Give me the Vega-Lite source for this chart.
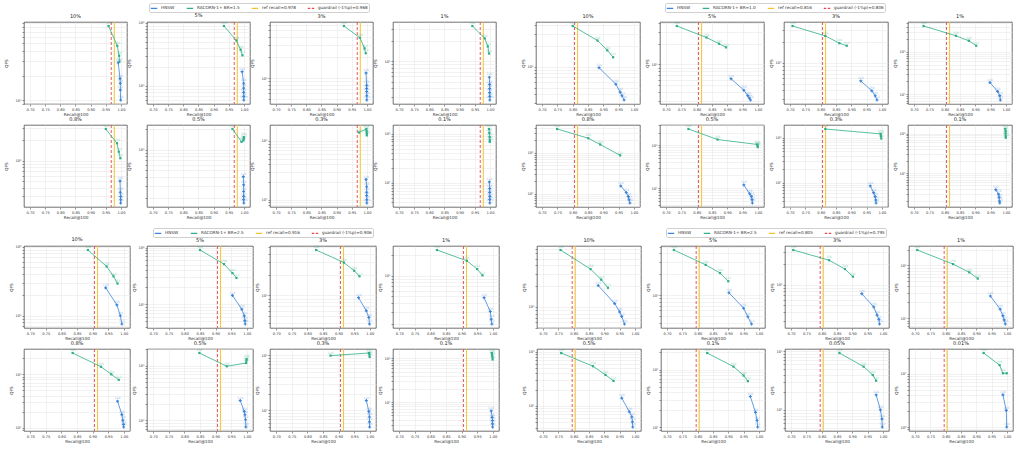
{
"$schema": "https://vega.github.io/schema/vega-lite/v6.json",
"background": "white",
"padding": {"left": 4, "top": 2, "right": 0, "bottom": 0},
"datasets": {"d": [
{"q":"TL","p":"10%","s":"ref","r":0.978},{"q":"TL","p":"10%","s":"g","r":0.968},
{"q":"TL","p":"5%","s":"ref","r":0.978},{"q":"TL","p":"5%","s":"g","r":0.968},
{"q":"TL","p":"3%","s":"ref","r":0.978},{"q":"TL","p":"3%","s":"g","r":0.968},
{"q":"TL","p":"1%","s":"ref","r":0.978},{"q":"TL","p":"1%","s":"g","r":0.968},
{"q":"TL","p":"0.8%","s":"ref","r":0.978},{"q":"TL","p":"0.8%","s":"g","r":0.968},
{"q":"TL","p":"0.5%","s":"ref","r":0.978},{"q":"TL","p":"0.5%","s":"g","r":0.968},
{"q":"TL","p":"0.3%","s":"ref","r":0.978},{"q":"TL","p":"0.3%","s":"g","r":0.968},
{"q":"TL","p":"0.1%","s":"ref","r":0.978},{"q":"TL","p":"0.1%","s":"g","r":0.968},
{"q":"TL","p":"10%","s":"R","i":0,"r":0.959,"v":8200,"l":"128"},
{"q":"TL","p":"10%","s":"R","i":1,"r":0.988,"v":4670,"l":"256"},
{"q":"TL","p":"10%","s":"R","i":2,"r":0.994,"v":3520,"l":"384"},
{"q":"TL","p":"10%","s":"R","i":3,"r":0.995,"v":2970,"l":"512"},
{"q":"TL","p":"10%","s":"H","i":0,"r":0.991,"v":2890,"l":"128"},
{"q":"TL","p":"10%","s":"H","i":1,"r":0.997,"v":1840,"l":"256"},
{"q":"TL","p":"10%","s":"H","i":2,"r":0.998,"v":1600,"l":"384"},
{"q":"TL","p":"10%","s":"H","i":3,"r":0.998,"v":1330,"l":"512"},
{"q":"TL","p":"10%","s":"H","i":4,"r":0.999,"v":1000,"l":"768"},
{"q":"TL","p":"5%","s":"R","i":0,"r":0.934,"v":8870,"l":"128"},
{"q":"TL","p":"5%","s":"R","i":1,"r":0.975,"v":5230,"l":"256"},
{"q":"TL","p":"5%","s":"R","i":2,"r":0.989,"v":3740,"l":"384"},
{"q":"TL","p":"5%","s":"R","i":3,"r":0.995,"v":3050,"l":"512"},
{"q":"TL","p":"5%","s":"H","i":0,"r":0.994,"v":1675,"l":"128"},
{"q":"TL","p":"5%","s":"H","i":1,"r":0.999,"v":1100,"l":"256"},
{"q":"TL","p":"5%","s":"H","i":2,"r":0.999,"v":920,"l":"384"},
{"q":"TL","p":"5%","s":"H","i":3,"r":0.999,"v":787,"l":"512"},
{"q":"TL","p":"5%","s":"H","i":4,"r":0.9995,"v":681,"l":"768"},
{"q":"TL","p":"5%","s":"H","i":5,"r":0.9995,"v":597,"l":"1024"},
{"q":"TL","p":"3%","s":"R","i":0,"r":0.924,"v":5720,"l":"128"},
{"q":"TL","p":"3%","s":"R","i":1,"r":0.977,"v":3850,"l":"256"},
{"q":"TL","p":"3%","s":"R","i":2,"r":0.992,"v":2710,"l":"384"},
{"q":"TL","p":"3%","s":"R","i":3,"r":0.996,"v":2300,"l":"512"},
{"q":"TL","p":"3%","s":"H","i":0,"r":0.997,"v":1190,"l":"128"},
{"q":"TL","p":"3%","s":"H","i":1,"r":0.999,"v":786,"l":"256"},
{"q":"TL","p":"3%","s":"H","i":2,"r":0.999,"v":705,"l":"384"},
{"q":"TL","p":"3%","s":"H","i":3,"r":0.999,"v":638,"l":"512"},
{"q":"TL","p":"3%","s":"H","i":4,"r":0.9995,"v":553,"l":"768"},
{"q":"TL","p":"3%","s":"H","i":5,"r":0.9995,"v":480,"l":"1024"},
{"q":"TL","p":"1%","s":"R","i":0,"r":0.942,"v":3270,"l":"128"},
{"q":"TL","p":"1%","s":"R","i":1,"r":0.983,"v":2150,"l":"256"},
{"q":"TL","p":"1%","s":"R","i":2,"r":0.993,"v":1640,"l":"384"},
{"q":"TL","p":"1%","s":"R","i":3,"r":0.997,"v":1290,"l":"512"},
{"q":"TL","p":"1%","s":"H","i":0,"r":0.998,"v":578,"l":"128"},
{"q":"TL","p":"1%","s":"H","i":1,"r":0.999,"v":454,"l":"256"},
{"q":"TL","p":"1%","s":"H","i":2,"r":0.999,"v":394,"l":"384"},
{"q":"TL","p":"1%","s":"H","i":3,"r":0.999,"v":345,"l":"512"},
{"q":"TL","p":"1%","s":"H","i":4,"r":0.9995,"v":303,"l":"768"},
{"q":"TL","p":"1%","s":"H","i":5,"r":0.9995,"v":268,"l":"1024"},
{"q":"TL","p":"0.8%","s":"R","i":0,"r":0.950,"v":2930,"l":"128"},
{"q":"TL","p":"0.8%","s":"R","i":1,"r":0.987,"v":1810,"l":"256"},
{"q":"TL","p":"0.8%","s":"R","i":2,"r":0.993,"v":1360,"l":"384"},
{"q":"TL","p":"0.8%","s":"R","i":3,"r":0.998,"v":1090,"l":"512"},
{"q":"TL","p":"0.8%","s":"H","i":0,"r":0.997,"v":507,"l":"128"},
{"q":"TL","p":"0.8%","s":"H","i":1,"r":0.998,"v":345,"l":"256"},
{"q":"TL","p":"0.8%","s":"H","i":2,"r":0.999,"v":299,"l":"384"},
{"q":"TL","p":"0.8%","s":"H","i":3,"r":0.999,"v":268,"l":"512"},
{"q":"TL","p":"0.8%","s":"H","i":4,"r":0.999,"v":240,"l":"768"},
{"q":"TL","p":"0.5%","s":"R","i":0,"r":0.962,"v":1995,"l":"128"},
{"q":"TL","p":"0.5%","s":"R","i":1,"r":0.992,"v":1300,"l":"256"},
{"q":"TL","p":"0.5%","s":"R","i":2,"r":0.998,"v":1360,"l":"384"},
{"q":"TL","p":"0.5%","s":"R","i":3,"r":0.9995,"v":1440,"l":"512"},
{"q":"TL","p":"0.5%","s":"R","i":4,"r":0.9995,"v":1520,"l":"768"},
{"q":"TL","p":"0.5%","s":"H","i":0,"r":0.998,"v":407,"l":"128"},
{"q":"TL","p":"0.5%","s":"H","i":1,"r":0.999,"v":309,"l":"256"},
{"q":"TL","p":"0.5%","s":"H","i":2,"r":0.999,"v":248,"l":"384"},
{"q":"TL","p":"0.5%","s":"H","i":3,"r":0.999,"v":211,"l":"512"},
{"q":"TL","p":"0.5%","s":"H","i":4,"r":0.999,"v":189,"l":"768"},
{"q":"TL","p":"0.5%","s":"H","i":5,"r":0.9995,"v":169,"l":"1024"},
{"q":"TL","p":"0.3%","s":"R","i":0,"r":0.974,"v":1387,"l":"128"},
{"q":"TL","p":"0.3%","s":"R","i":1,"r":0.998,"v":1590,"l":"256"},
{"q":"TL","p":"0.3%","s":"R","i":2,"r":0.999,"v":1460,"l":"384"},
{"q":"TL","p":"0.3%","s":"R","i":3,"r":0.9995,"v":1336,"l":"512"},
{"q":"TL","p":"0.3%","s":"R","i":4,"r":0.9995,"v":1240,"l":"768"},
{"q":"TL","p":"0.3%","s":"H","i":0,"r":0.997,"v":221,"l":"128"},
{"q":"TL","p":"0.3%","s":"H","i":1,"r":0.999,"v":166,"l":"256"},
{"q":"TL","p":"0.3%","s":"H","i":2,"r":0.999,"v":134,"l":"384"},
{"q":"TL","p":"0.3%","s":"H","i":3,"r":0.999,"v":118,"l":"512"},
{"q":"TL","p":"0.3%","s":"H","i":4,"r":0.9995,"v":100,"l":"768"},
{"q":"TL","p":"0.3%","s":"H","i":5,"r":0.9995,"v":88,"l":"1024"},
{"q":"TL","p":"0.1%","s":"R","i":0,"r":0.997,"v":1253,"l":"128"},
{"q":"TL","p":"0.1%","s":"R","i":1,"r":0.998,"v":1048,"l":"256"},
{"q":"TL","p":"0.1%","s":"R","i":2,"r":0.999,"v":861,"l":"384"},
{"q":"TL","p":"0.1%","s":"R","i":3,"r":0.9995,"v":740,"l":"512"},
{"q":"TL","p":"0.1%","s":"R","i":4,"r":0.9995,"v":687,"l":"768"},
{"q":"TL","p":"0.1%","s":"H","i":0,"r":0.998,"v":105,"l":"128"},
{"q":"TL","p":"0.1%","s":"H","i":1,"r":0.999,"v":77,"l":"256"},
{"q":"TL","p":"0.1%","s":"H","i":2,"r":0.999,"v":64,"l":"384"},
{"q":"TL","p":"0.1%","s":"H","i":3,"r":0.9995,"v":53,"l":"512"},
{"q":"TL","p":"0.1%","s":"H","i":4,"r":0.9995,"v":46,"l":"768"},
{"q":"TL","p":"0.1%","s":"H","i":5,"r":0.9995,"v":39,"l":"1024"},
{"q":"TR","p":"10%","s":"ref","r":0.816},{"q":"TR","p":"10%","s":"g","r":0.806},
{"q":"TR","p":"5%","s":"ref","r":0.816},{"q":"TR","p":"5%","s":"g","r":0.806},
{"q":"TR","p":"3%","s":"ref","r":0.816},{"q":"TR","p":"3%","s":"g","r":0.806},
{"q":"TR","p":"1%","s":"ref","r":0.816},{"q":"TR","p":"1%","s":"g","r":0.806},
{"q":"TR","p":"0.8%","s":"ref","r":0.816},{"q":"TR","p":"0.8%","s":"g","r":0.806},
{"q":"TR","p":"0.5%","s":"ref","r":0.816},{"q":"TR","p":"0.5%","s":"g","r":0.806},
{"q":"TR","p":"0.3%","s":"ref","r":0.816},{"q":"TR","p":"0.3%","s":"g","r":0.806},
{"q":"TR","p":"0.1%","s":"ref","r":0.816},{"q":"TR","p":"0.1%","s":"g","r":0.806},
{"q":"TR","p":"10%","s":"R","i":0,"r":0.800,"v":3890,"l":"128"},
{"q":"TR","p":"10%","s":"R","i":1,"r":0.881,"v":2400,"l":"256"},
{"q":"TR","p":"10%","s":"R","i":2,"r":0.913,"v":1730,"l":"384"},
{"q":"TR","p":"10%","s":"R","i":3,"r":0.932,"v":1375,"l":"512"},
{"q":"TR","p":"10%","s":"H","i":0,"r":0.886,"v":968,"l":"128"},
{"q":"TR","p":"10%","s":"H","i":1,"r":0.941,"v":560,"l":"256"},
{"q":"TR","p":"10%","s":"H","i":2,"r":0.955,"v":430,"l":"384"},
{"q":"TR","p":"10%","s":"H","i":3,"r":0.961,"v":380,"l":"512"},
{"q":"TR","p":"10%","s":"H","i":4,"r":0.968,"v":330,"l":"768"},
{"q":"TR","p":"5%","s":"R","i":0,"r":0.735,"v":3610,"l":"128"},
{"q":"TR","p":"5%","s":"R","i":1,"r":0.832,"v":2460,"l":"256"},
{"q":"TR","p":"5%","s":"R","i":2,"r":0.873,"v":2000,"l":"384"},
{"q":"TR","p":"5%","s":"R","i":3,"r":0.896,"v":1770,"l":"512"},
{"q":"TR","p":"5%","s":"H","i":0,"r":0.912,"v":624,"l":"128"},
{"q":"TR","p":"5%","s":"H","i":1,"r":0.954,"v":425,"l":"256"},
{"q":"TR","p":"5%","s":"H","i":2,"r":0.967,"v":353,"l":"384"},
{"q":"TR","p":"5%","s":"H","i":3,"r":0.972,"v":325,"l":"512"},
{"q":"TR","p":"5%","s":"H","i":4,"r":0.976,"v":306,"l":"768"},
{"q":"TR","p":"3%","s":"R","i":0,"r":0.708,"v":3420,"l":"128"},
{"q":"TR","p":"3%","s":"R","i":1,"r":0.815,"v":2460,"l":"256"},
{"q":"TR","p":"3%","s":"R","i":2,"r":0.861,"v":1930,"l":"384"},
{"q":"TR","p":"3%","s":"R","i":3,"r":0.885,"v":1770,"l":"512"},
{"q":"TR","p":"3%","s":"H","i":0,"r":0.931,"v":547,"l":"128"},
{"q":"TR","p":"3%","s":"H","i":1,"r":0.967,"v":394,"l":"256"},
{"q":"TR","p":"3%","s":"H","i":2,"r":0.978,"v":334,"l":"384"},
{"q":"TR","p":"3%","s":"H","i":3,"r":0.984,"v":290,"l":"512"},
{"q":"TR","p":"1%","s":"R","i":0,"r":0.731,"v":4140,"l":"128"},
{"q":"TR","p":"1%","s":"R","i":1,"r":0.837,"v":2420,"l":"256"},
{"q":"TR","p":"1%","s":"R","i":2,"r":0.879,"v":1845,"l":"384"},
{"q":"TR","p":"1%","s":"R","i":3,"r":0.903,"v":1407,"l":"512"},
{"q":"TR","p":"1%","s":"H","i":0,"r":0.948,"v":187,"l":"128"},
{"q":"TR","p":"1%","s":"H","i":1,"r":0.973,"v":115,"l":"256"},
{"q":"TR","p":"1%","s":"H","i":2,"r":0.980,"v":91,"l":"384"},
{"q":"TR","p":"1%","s":"H","i":3,"r":0.982,"v":72,"l":"512"},
{"q":"TR","p":"0.8%","s":"R","i":0,"r":0.749,"v":3770,"l":"128"},
{"q":"TR","p":"0.8%","s":"R","i":1,"r":0.851,"v":2250,"l":"256"},
{"q":"TR","p":"0.8%","s":"R","i":2,"r":0.890,"v":1585,"l":"384"},
{"q":"TR","p":"0.8%","s":"R","i":3,"r":0.955,"v":863,"l":"512"},
{"q":"TR","p":"0.8%","s":"H","i":0,"r":0.957,"v":156,"l":"128"},
{"q":"TR","p":"0.8%","s":"H","i":1,"r":0.975,"v":108,"l":"256"},
{"q":"TR","p":"0.8%","s":"H","i":2,"r":0.982,"v":86,"l":"384"},
{"q":"TR","p":"0.8%","s":"H","i":3,"r":0.984,"v":72,"l":"512"},
{"q":"TR","p":"0.8%","s":"H","i":4,"r":0.987,"v":60,"l":"768"},
{"q":"TR","p":"0.5%","s":"R","i":0,"r":0.773,"v":2425,"l":"128"},
{"q":"TR","p":"0.5%","s":"R","i":1,"r":0.868,"v":1375,"l":"256"},
{"q":"TR","p":"0.5%","s":"R","i":2,"r":0.998,"v":1055,"l":"384"},
{"q":"TR","p":"0.5%","s":"R","i":3,"r":0.999,"v":1000,"l":"512"},
{"q":"TR","p":"0.5%","s":"R","i":4,"r":0.9995,"v":915,"l":"768"},
{"q":"TR","p":"0.5%","s":"H","i":0,"r":0.954,"v":119,"l":"128"},
{"q":"TR","p":"0.5%","s":"H","i":1,"r":0.973,"v":74,"l":"256"},
{"q":"TR","p":"0.5%","s":"H","i":2,"r":0.979,"v":64,"l":"384"},
{"q":"TR","p":"0.5%","s":"H","i":3,"r":0.981,"v":54,"l":"512"},
{"q":"TR","p":"0.5%","s":"H","i":4,"r":0.982,"v":45,"l":"768"},
{"q":"TR","p":"0.3%","s":"R","i":0,"r":0.815,"v":1570,"l":"128"},
{"q":"TR","p":"0.3%","s":"R","i":1,"r":0.996,"v":1222,"l":"256"},
{"q":"TR","p":"0.3%","s":"R","i":2,"r":0.997,"v":1087,"l":"384"},
{"q":"TR","p":"0.3%","s":"R","i":3,"r":0.998,"v":968,"l":"512"},
{"q":"TR","p":"0.3%","s":"H","i":0,"r":0.962,"v":86,"l":"128"},
{"q":"TR","p":"0.3%","s":"H","i":1,"r":0.973,"v":61,"l":"256"},
{"q":"TR","p":"0.3%","s":"H","i":2,"r":0.978,"v":50,"l":"384"},
{"q":"TR","p":"0.3%","s":"H","i":3,"r":0.980,"v":42,"l":"512"},
{"q":"TR","p":"0.3%","s":"H","i":4,"r":0.981,"v":36,"l":"768"},
{"q":"TR","p":"0.1%","s":"R","i":0,"r":0.998,"v":1300,"l":"128"},
{"q":"TR","p":"0.1%","s":"R","i":1,"r":0.999,"v":1140,"l":"256"},
{"q":"TR","p":"0.1%","s":"R","i":2,"r":0.999,"v":1000,"l":"384"},
{"q":"TR","p":"0.1%","s":"R","i":3,"r":0.9995,"v":861,"l":"512"},
{"q":"TR","p":"0.1%","s":"R","i":4,"r":0.9995,"v":784,"l":"768"},
{"q":"TR","p":"0.1%","s":"H","i":0,"r":0.967,"v":39,"l":"128"},
{"q":"TR","p":"0.1%","s":"H","i":1,"r":0.976,"v":30,"l":"256"},
{"q":"TR","p":"0.1%","s":"H","i":2,"r":0.978,"v":25,"l":"384"},
{"q":"TR","p":"0.1%","s":"H","i":3,"r":0.979,"v":20,"l":"512"},
{"q":"TR","p":"0.1%","s":"H","i":4,"r":0.980,"v":18,"l":"768"},
{"q":"BL","p":"10%","s":"ref","r":0.916},{"q":"BL","p":"10%","s":"g","r":0.906},
{"q":"BL","p":"5%","s":"ref","r":0.916},{"q":"BL","p":"5%","s":"g","r":0.906},
{"q":"BL","p":"3%","s":"ref","r":0.916},{"q":"BL","p":"3%","s":"g","r":0.906},
{"q":"BL","p":"1%","s":"ref","r":0.916},{"q":"BL","p":"1%","s":"g","r":0.906},
{"q":"BL","p":"0.8%","s":"ref","r":0.916},{"q":"BL","p":"0.8%","s":"g","r":0.906},
{"q":"BL","p":"0.5%","s":"ref","r":0.916},{"q":"BL","p":"0.5%","s":"g","r":0.906},
{"q":"BL","p":"0.3%","s":"ref","r":0.916},{"q":"BL","p":"0.3%","s":"g","r":0.906},
{"q":"BL","p":"0.1%","s":"ref","r":0.916},{"q":"BL","p":"0.1%","s":"g","r":0.906},
{"q":"BL","p":"10%","s":"R","i":0,"r":0.885,"v":8960,"l":"128"},
{"q":"BL","p":"10%","s":"R","i":1,"r":0.945,"v":5180,"l":"256"},
{"q":"BL","p":"10%","s":"R","i":2,"r":0.967,"v":3730,"l":"384"},
{"q":"BL","p":"10%","s":"R","i":3,"r":0.980,"v":2930,"l":"512"},
{"q":"BL","p":"10%","s":"H","i":0,"r":0.942,"v":2540,"l":"128"},
{"q":"BL","p":"10%","s":"H","i":1,"r":0.978,"v":1435,"l":"256"},
{"q":"BL","p":"10%","s":"H","i":2,"r":0.989,"v":1000,"l":"384"},
{"q":"BL","p":"10%","s":"H","i":3,"r":0.994,"v":760,"l":"512"},
{"q":"BL","p":"5%","s":"R","i":0,"r":0.850,"v":9100,"l":"128"},
{"q":"BL","p":"5%","s":"R","i":1,"r":0.927,"v":5120,"l":"256"},
{"q":"BL","p":"5%","s":"R","i":2,"r":0.954,"v":3560,"l":"384"},
{"q":"BL","p":"5%","s":"R","i":3,"r":0.967,"v":2920,"l":"512"},
{"q":"BL","p":"5%","s":"H","i":0,"r":0.954,"v":1435,"l":"128"},
{"q":"BL","p":"5%","s":"H","i":1,"r":0.984,"v":818,"l":"256"},
{"q":"BL","p":"5%","s":"H","i":2,"r":0.992,"v":626,"l":"384"},
{"q":"BL","p":"5%","s":"H","i":3,"r":0.994,"v":512,"l":"512"},
{"q":"BL","p":"5%","s":"H","i":4,"r":0.995,"v":448,"l":"768"},
{"q":"BL","p":"3%","s":"R","i":0,"r":0.828,"v":4540,"l":"128"},
{"q":"BL","p":"3%","s":"R","i":1,"r":0.917,"v":2990,"l":"256"},
{"q":"BL","p":"3%","s":"R","i":2,"r":0.950,"v":2275,"l":"384"},
{"q":"BL","p":"3%","s":"R","i":3,"r":0.967,"v":1890,"l":"512"},
{"q":"BL","p":"3%","s":"H","i":0,"r":0.964,"v":926,"l":"128"},
{"q":"BL","p":"3%","s":"H","i":1,"r":0.989,"v":597,"l":"256"},
{"q":"BL","p":"3%","s":"H","i":2,"r":0.997,"v":480,"l":"384"},
{"q":"BL","p":"3%","s":"H","i":3,"r":0.999,"v":385,"l":"512"},
{"q":"BL","p":"1%","s":"R","i":0,"r":0.821,"v":2350,"l":"128"},
{"q":"BL","p":"1%","s":"R","i":1,"r":0.917,"v":1640,"l":"256"},
{"q":"BL","p":"1%","s":"R","i":2,"r":0.950,"v":1245,"l":"384"},
{"q":"BL","p":"1%","s":"R","i":3,"r":0.967,"v":1010,"l":"512"},
{"q":"BL","p":"1%","s":"H","i":0,"r":0.972,"v":480,"l":"128"},
{"q":"BL","p":"1%","s":"H","i":1,"r":0.992,"v":303,"l":"256"},
{"q":"BL","p":"1%","s":"H","i":2,"r":0.995,"v":235,"l":"384"},
{"q":"BL","p":"1%","s":"H","i":3,"r":0.997,"v":200,"l":"512"},
{"q":"BL","p":"0.8%","s":"R","i":0,"r":0.836,"v":2505,"l":"128"},
{"q":"BL","p":"0.8%","s":"R","i":1,"r":0.927,"v":1385,"l":"256"},
{"q":"BL","p":"0.8%","s":"R","i":2,"r":0.960,"v":1000,"l":"384"},
{"q":"BL","p":"0.8%","s":"R","i":3,"r":0.984,"v":787,"l":"512"},
{"q":"BL","p":"0.8%","s":"H","i":0,"r":0.980,"v":314,"l":"128"},
{"q":"BL","p":"0.8%","s":"H","i":1,"r":0.994,"v":176,"l":"256"},
{"q":"BL","p":"0.8%","s":"H","i":2,"r":0.997,"v":138,"l":"384"},
{"q":"BL","p":"0.8%","s":"H","i":3,"r":0.999,"v":115,"l":"512"},
{"q":"BL","p":"0.8%","s":"H","i":4,"r":0.9995,"v":103,"l":"768"},
{"q":"BL","p":"0.5%","s":"R","i":0,"r":0.848,"v":1700,"l":"128"},
{"q":"BL","p":"0.5%","s":"R","i":1,"r":0.936,"v":973,"l":"256"},
{"q":"BL","p":"0.5%","s":"R","i":2,"r":0.998,"v":1117,"l":"384"},
{"q":"BL","p":"0.5%","s":"R","i":3,"r":0.999,"v":1233,"l":"512"},
{"q":"BL","p":"0.5%","s":"R","i":4,"r":0.9995,"v":1322,"l":"768"},
{"q":"BL","p":"0.5%","s":"H","i":0,"r":0.979,"v":231,"l":"128"},
{"q":"BL","p":"0.5%","s":"H","i":1,"r":0.992,"v":146,"l":"256"},
{"q":"BL","p":"0.5%","s":"H","i":2,"r":0.994,"v":127,"l":"384"},
{"q":"BL","p":"0.5%","s":"H","i":3,"r":0.996,"v":103,"l":"512"},
{"q":"BL","p":"0.5%","s":"H","i":4,"r":0.997,"v":76,"l":"768"},
{"q":"BL","p":"0.3%","s":"R","i":0,"r":0.874,"v":986,"l":"128"},
{"q":"BL","p":"0.3%","s":"R","i":1,"r":0.998,"v":1100,"l":"256"},
{"q":"BL","p":"0.3%","s":"R","i":2,"r":0.999,"v":1028,"l":"384"},
{"q":"BL","p":"0.3%","s":"R","i":3,"r":0.9995,"v":933,"l":"512"},
{"q":"BL","p":"0.3%","s":"H","i":0,"r":0.989,"v":151,"l":"128"},
{"q":"BL","p":"0.3%","s":"H","i":1,"r":0.997,"v":96,"l":"256"},
{"q":"BL","p":"0.3%","s":"H","i":2,"r":0.999,"v":76,"l":"384"},
{"q":"BL","p":"0.3%","s":"H","i":3,"r":0.999,"v":62,"l":"512"},
{"q":"BL","p":"0.3%","s":"H","i":4,"r":0.9995,"v":50,"l":"768"},
{"q":"BL","p":"0.1%","s":"R","i":0,"r":0.997,"v":1334,"l":"128"},
{"q":"BL","p":"0.1%","s":"R","i":1,"r":0.998,"v":1185,"l":"256"},
{"q":"BL","p":"0.1%","s":"R","i":2,"r":0.999,"v":1070,"l":"384"},
{"q":"BL","p":"0.1%","s":"R","i":3,"r":0.9995,"v":950,"l":"512"},
{"q":"BL","p":"0.1%","s":"H","i":0,"r":0.995,"v":63,"l":"128"},
{"q":"BL","p":"0.1%","s":"H","i":1,"r":0.998,"v":45,"l":"256"},
{"q":"BL","p":"0.1%","s":"H","i":2,"r":0.999,"v":38,"l":"384"},
{"q":"BL","p":"0.1%","s":"H","i":3,"r":0.999,"v":32,"l":"512"},
{"q":"BL","p":"0.1%","s":"H","i":4,"r":0.9995,"v":27,"l":"768"},
{"q":"BR","p":"10%","s":"ref","r":0.805},{"q":"BR","p":"10%","s":"g","r":0.795},
{"q":"BR","p":"5%","s":"ref","r":0.805},{"q":"BR","p":"5%","s":"g","r":0.795},
{"q":"BR","p":"3%","s":"ref","r":0.805},{"q":"BR","p":"3%","s":"g","r":0.795},
{"q":"BR","p":"1%","s":"ref","r":0.805},{"q":"BR","p":"1%","s":"g","r":0.795},
{"q":"BR","p":"0.5%","s":"ref","r":0.805},{"q":"BR","p":"0.5%","s":"g","r":0.795},
{"q":"BR","p":"0.1%","s":"ref","r":0.805},{"q":"BR","p":"0.1%","s":"g","r":0.795},
{"q":"BR","p":"0.05%","s":"ref","r":0.805},{"q":"BR","p":"0.05%","s":"g","r":0.795},
{"q":"BR","p":"0.01%","s":"ref","r":0.805},{"q":"BR","p":"0.01%","s":"g","r":0.795},
{"q":"BR","p":"10%","s":"R","i":0,"r":0.757,"v":6670,"l":"128"},
{"q":"BR","p":"10%","s":"R","i":1,"r":0.855,"v":3530,"l":"256"},
{"q":"BR","p":"10%","s":"R","i":2,"r":0.890,"v":2480,"l":"384"},
{"q":"BR","p":"10%","s":"R","i":3,"r":0.912,"v":1890,"l":"512"},
{"q":"BR","p":"10%","s":"H","i":0,"r":0.880,"v":2040,"l":"128"},
{"q":"BR","p":"10%","s":"H","i":1,"r":0.934,"v":1115,"l":"256"},
{"q":"BR","p":"10%","s":"H","i":2,"r":0.950,"v":849,"l":"384"},
{"q":"BR","p":"10%","s":"H","i":3,"r":0.957,"v":728,"l":"512"},
{"q":"BR","p":"10%","s":"H","i":4,"r":0.966,"v":565,"l":"768"},
{"q":"BR","p":"5%","s":"R","i":0,"r":0.722,"v":4490,"l":"128"},
{"q":"BR","p":"5%","s":"R","i":1,"r":0.826,"v":2740,"l":"256"},
{"q":"BR","p":"5%","s":"R","i":2,"r":0.873,"v":2085,"l":"384"},
{"q":"BR","p":"5%","s":"R","i":3,"r":0.900,"v":1585,"l":"512"},
{"q":"BR","p":"5%","s":"H","i":0,"r":0.902,"v":1080,"l":"128"},
{"q":"BR","p":"5%","s":"H","i":1,"r":0.950,"v":646,"l":"256"},
{"q":"BR","p":"5%","s":"H","i":2,"r":0.964,"v":485,"l":"384"},
{"q":"BR","p":"5%","s":"H","i":3,"r":0.976,"v":381,"l":"512"},
{"q":"BR","p":"3%","s":"R","i":0,"r":0.707,"v":3160,"l":"128"},
{"q":"BR","p":"3%","s":"R","i":1,"r":0.824,"v":2250,"l":"256"},
{"q":"BR","p":"3%","s":"R","i":2,"r":0.876,"v":1675,"l":"384"},
{"q":"BR","p":"3%","s":"R","i":3,"r":0.902,"v":1300,"l":"512"},
{"q":"BR","p":"3%","s":"H","i":0,"r":0.931,"v":736,"l":"128"},
{"q":"BR","p":"3%","s":"H","i":1,"r":0.970,"v":474,"l":"256"},
{"q":"BR","p":"3%","s":"H","i":2,"r":0.981,"v":361,"l":"384"},
{"q":"BR","p":"3%","s":"H","i":3,"r":0.987,"v":313,"l":"512"},
{"q":"BR","p":"3%","s":"H","i":4,"r":0.989,"v":268,"l":"768"},
{"q":"BR","p":"1%","s":"R","i":0,"r":0.707,"v":1960,"l":"128"},
{"q":"BR","p":"1%","s":"R","i":1,"r":0.824,"v":1060,"l":"256"},
{"q":"BR","p":"1%","s":"R","i":2,"r":0.877,"v":741,"l":"384"},
{"q":"BR","p":"1%","s":"R","i":3,"r":0.905,"v":565,"l":"512"},
{"q":"BR","p":"1%","s":"H","i":0,"r":0.946,"v":264,"l":"128"},
{"q":"BR","p":"1%","s":"H","i":1,"r":0.978,"v":149,"l":"256"},
{"q":"BR","p":"1%","s":"H","i":2,"r":0.987,"v":112,"l":"384"},
{"q":"BR","p":"1%","s":"H","i":3,"r":0.991,"v":93,"l":"512"},
{"q":"BR","p":"1%","s":"H","i":4,"r":0.995,"v":78,"l":"768"},
{"q":"BR","p":"0.5%","s":"R","i":0,"r":0.759,"v":946,"l":"128"},
{"q":"BR","p":"0.5%","s":"R","i":1,"r":0.863,"v":540,"l":"256"},
{"q":"BR","p":"0.5%","s":"R","i":2,"r":0.904,"v":374,"l":"384"},
{"q":"BR","p":"0.5%","s":"R","i":3,"r":0.930,"v":290,"l":"512"},
{"q":"BR","p":"0.5%","s":"H","i":0,"r":0.957,"v":140,"l":"128"},
{"q":"BR","p":"0.5%","s":"H","i":1,"r":0.982,"v":78,"l":"256"},
{"q":"BR","p":"0.5%","s":"H","i":2,"r":0.990,"v":63,"l":"384"},
{"q":"BR","p":"0.5%","s":"H","i":3,"r":0.992,"v":51,"l":"512"},
{"q":"BR","p":"0.5%","s":"H","i":4,"r":0.993,"v":41,"l":"768"},
{"q":"BR","p":"0.1%","s":"R","i":0,"r":0.831,"v":195,"l":"128"},
{"q":"BR","p":"0.1%","s":"R","i":1,"r":0.917,"v":113,"l":"256"},
{"q":"BR","p":"0.1%","s":"R","i":2,"r":0.950,"v":79,"l":"384"},
{"q":"BR","p":"0.1%","s":"R","i":3,"r":0.964,"v":63,"l":"512"},
{"q":"BR","p":"0.1%","s":"H","i":0,"r":0.972,"v":34,"l":"128"},
{"q":"BR","p":"0.1%","s":"H","i":1,"r":0.989,"v":18,"l":"256"},
{"q":"BR","p":"0.1%","s":"H","i":2,"r":0.994,"v":13,"l":"384"},
{"q":"BR","p":"0.1%","s":"H","i":3,"r":0.996,"v":10,"l":"512"},
{"q":"BR","p":"0.05%","s":"R","i":0,"r":0.858,"v":94,"l":"128"},
{"q":"BR","p":"0.05%","s":"R","i":1,"r":0.937,"v":55,"l":"256"},
{"q":"BR","p":"0.05%","s":"R","i":2,"r":0.967,"v":39.5,"l":"384"},
{"q":"BR","p":"0.05%","s":"R","i":3,"r":0.978,"v":31.6,"l":"512"},
{"q":"BR","p":"0.05%","s":"H","i":0,"r":0.978,"v":18,"l":"128"},
{"q":"BR","p":"0.05%","s":"H","i":1,"r":0.992,"v":10,"l":"256"},
{"q":"BR","p":"0.05%","s":"H","i":2,"r":0.997,"v":7,"l":"384"},
{"q":"BR","p":"0.05%","s":"H","i":3,"r":0.998,"v":5.1,"l":"512"},
{"q":"BR","p":"0.01%","s":"R","i":0,"r":0.924,"v":24.8,"l":"128"},
{"q":"BR","p":"0.01%","s":"R","i":1,"r":0.976,"v":14.7,"l":"256"},
{"q":"BR","p":"0.01%","s":"R","i":2,"r":0.987,"v":10.3,"l":"384"},
{"q":"BR","p":"0.01%","s":"R","i":3,"r":0.9995,"v":10.3,"l":""},
{"q":"BR","p":"0.01%","s":"H","i":0,"r":0.987,"v":4.04,"l":"128"},
{"q":"BR","p":"0.01%","s":"H","i":1,"r":0.998,"v":2.05,"l":"256"},
{"q":"BR","p":"0.01%","s":"H","i":2,"r":0.9995,"v":1,"l":"384"}
]},
"spacing": 7,
"resolve": {"scale": {"color": "independent"}, "legend": {"color": "independent"}},
"vconcat": [
{"hconcat": [
{
"data": {"name": "d"},
"transform": [{"filter": "datum.q=='TL'"}],
"columns": 4, "bounds": "flush",
"spacing": {"row": 21, "column": 20},
"facet": {"field": "p", "type": "ordinal", "sort": ["10%","5%","3%","1%","0.8%","0.5%","0.3%","0.1%","0.05%","0.01%"], "header": {"title": null}},
"resolve": {"scale": {"y": "independent"}, "axis": {"x": "independent", "y": "independent"}},
"spec": {"width": 103, "height": 82, "layer": [
{"transform": [{"filter": "datum.s=='ref'"}], "mark": {"type": "rule", "strokeWidth": 1},
 "encoding": {"x": {"field": "r", "type": "quantitative", "scale": {"domain": [0.68, 1.02]}, "axis": {"values": [0.7,0.75,0.8,0.85,0.9,0.95,1.0], "format": ".2f", "labelOverlap": false, "labelFlush": false}, "title": "Recall@100"},
  "color": {"field": "s", "type": "nominal", "scale": {"domain": ["H","R","ref","g"], "range": ["#3d85d8","#2fae8a","#f4c430","#e5484d"]},
   "legend": {"orient": "none", "legendX": 125, "legendY": -19, "direction": "horizontal", "title": null, "labelExpr": "datum.label=='H'?'HNSW':datum.label=='R'?'RACORN-1+ BR=1.5':datum.label=='ref'?'ref recall=0.978':'guardrail (-1%p)=0.968'",
    "encode": {"symbols": {"update": {"strokeDash": {"signal": "datum.value=='g'?[2.5,1.5]:[1,0]"}, "stroke": {"signal": "datum.value=='H'?'#3d85d8':datum.value=='R'?'#2fae8a':datum.value=='ref'?'#f4c430':'#e5484d'"}, "opacity": {"value": 1}}}}}}}},
{"transform": [{"filter": "datum.s=='g'"}], "mark": {"type": "rule", "strokeWidth": 0.9, "strokeDash": [3, 2]},
 "encoding": {"x": {"field": "r", "type": "quantitative", "scale": {"domain": [0.68, 1.02]}, "axis": {"values": [0.7,0.75,0.8,0.85,0.9,0.95,1.0], "format": ".2f", "labelOverlap": false, "labelFlush": false}, "title": "Recall@100"}, "color": {"field": "s", "type": "nominal"}}},
{"transform": [{"filter": "datum.s=='H'||datum.s=='R'"}], "mark": {"type": "line", "strokeWidth": 0.8},
 "encoding": {"x": {"field": "r", "type": "quantitative", "scale": {"domain": [0.68, 1.02]}, "axis": {"values": [0.7,0.75,0.8,0.85,0.9,0.95,1.0], "format": ".2f", "labelOverlap": false, "labelFlush": false}, "title": "Recall@100"},
  "y": {"field": "v", "type": "quantitative", "scale": {"type": "log", "nice": false, "padding": 4}, "axis": {"tickCount": 12, "labelExpr": "abs(log(datum.value)/LN10-round(log(datum.value)/LN10))<0.01?'10'+['⁰','¹','²','³','⁴','⁵'][round(log(datum.value)/LN10)]:''", "minExtent": 14}, "title": "QPS"},
  "color": {"field": "s", "type": "nominal"}, "order": {"field": "i"}}},
{"transform": [{"filter": "datum.s=='H'"}], "mark": {"type": "point", "shape": "cross", "filled": true, "size": 9, "opacity": 1},
 "encoding": {"x": {"field": "r", "type": "quantitative", "scale": {"domain": [0.68, 1.02]}, "axis": {"values": [0.7,0.75,0.8,0.85,0.9,0.95,1.0], "format": ".2f", "labelOverlap": false, "labelFlush": false}, "title": "Recall@100"}, "y": {"field": "v", "type": "quantitative", "title": "QPS"}, "color": {"field": "s", "type": "nominal"}}},
{"transform": [{"filter": "datum.s=='R'"}], "mark": {"type": "point", "shape": "square", "filled": true, "size": 5, "opacity": 1},
 "encoding": {"x": {"field": "r", "type": "quantitative", "scale": {"domain": [0.68, 1.02]}, "axis": {"values": [0.7,0.75,0.8,0.85,0.9,0.95,1.0], "format": ".2f", "labelOverlap": false, "labelFlush": false}, "title": "Recall@100"}, "y": {"field": "v", "type": "quantitative", "title": "QPS"}, "color": {"field": "s", "type": "nominal"}}},
{"transform": [{"filter": "datum.s=='H'||datum.s=='R'"}], "mark": {"type": "text", "fontSize": 3, "dy": -3, "opacity": 0.5},
 "encoding": {"x": {"field": "r", "type": "quantitative", "scale": {"domain": [0.68, 1.02]}, "axis": {"values": [0.7,0.75,0.8,0.85,0.9,0.95,1.0], "format": ".2f", "labelOverlap": false, "labelFlush": false}, "title": "Recall@100"}, "y": {"field": "v", "type": "quantitative", "title": "QPS"}, "text": {"field": "l"}, "color": {"field": "s", "type": "nominal"}}}
]}
},
{
"data": {"name": "d"},
"transform": [{"filter": "datum.q=='TR'"}],
"columns": 4, "bounds": "flush",
"spacing": {"row": 21, "column": 20},
"facet": {"field": "p", "type": "ordinal", "sort": ["10%","5%","3%","1%","0.8%","0.5%","0.3%","0.1%","0.05%","0.01%"], "header": {"title": null}},
"resolve": {"scale": {"y": "independent"}, "axis": {"x": "independent", "y": "independent"}},
"spec": {"width": 104, "height": 82, "layer": [
{"transform": [{"filter": "datum.s=='ref'"}], "mark": {"type": "rule", "strokeWidth": 1},
 "encoding": {"x": {"field": "r", "type": "quantitative", "scale": {"domain": [0.68, 1.02]}, "axis": {"values": [0.7,0.75,0.8,0.85,0.9,0.95,1.0], "format": ".2f", "labelOverlap": false, "labelFlush": false}, "title": "Recall@100"},
  "color": {"field": "s", "type": "nominal", "scale": {"domain": ["H","R","ref","g"], "range": ["#3d85d8","#2fae8a","#f4c430","#e5484d"]},
   "legend": {"orient": "none", "legendX": 129, "legendY": -19, "direction": "horizontal", "title": null, "labelExpr": "datum.label=='H'?'HNSW':datum.label=='R'?'RACORN-1+ BR=1.0':datum.label=='ref'?'ref recall=0.816':'guardrail (-1%p)=0.806'",
    "encode": {"symbols": {"update": {"strokeDash": {"signal": "datum.value=='g'?[2.5,1.5]:[1,0]"}, "stroke": {"signal": "datum.value=='H'?'#3d85d8':datum.value=='R'?'#2fae8a':datum.value=='ref'?'#f4c430':'#e5484d'"}, "opacity": {"value": 1}}}}}}}},
{"transform": [{"filter": "datum.s=='g'"}], "mark": {"type": "rule", "strokeWidth": 0.9, "strokeDash": [3, 2]},
 "encoding": {"x": {"field": "r", "type": "quantitative", "scale": {"domain": [0.68, 1.02]}, "axis": {"values": [0.7,0.75,0.8,0.85,0.9,0.95,1.0], "format": ".2f", "labelOverlap": false, "labelFlush": false}, "title": "Recall@100"}, "color": {"field": "s", "type": "nominal"}}},
{"transform": [{"filter": "datum.s=='H'||datum.s=='R'"}], "mark": {"type": "line", "strokeWidth": 0.8},
 "encoding": {"x": {"field": "r", "type": "quantitative", "scale": {"domain": [0.68, 1.02]}, "axis": {"values": [0.7,0.75,0.8,0.85,0.9,0.95,1.0], "format": ".2f", "labelOverlap": false, "labelFlush": false}, "title": "Recall@100"},
  "y": {"field": "v", "type": "quantitative", "scale": {"type": "log", "nice": false, "padding": 4}, "axis": {"tickCount": 12, "labelExpr": "abs(log(datum.value)/LN10-round(log(datum.value)/LN10))<0.01?'10'+['⁰','¹','²','³','⁴','⁵'][round(log(datum.value)/LN10)]:''"}, "title": "QPS"},
  "color": {"field": "s", "type": "nominal"}, "order": {"field": "i"}}},
{"transform": [{"filter": "datum.s=='H'"}], "mark": {"type": "point", "shape": "cross", "filled": true, "size": 9, "opacity": 1},
 "encoding": {"x": {"field": "r", "type": "quantitative", "scale": {"domain": [0.68, 1.02]}, "axis": {"values": [0.7,0.75,0.8,0.85,0.9,0.95,1.0], "format": ".2f", "labelOverlap": false, "labelFlush": false}, "title": "Recall@100"}, "y": {"field": "v", "type": "quantitative", "title": "QPS"}, "color": {"field": "s", "type": "nominal"}}},
{"transform": [{"filter": "datum.s=='R'"}], "mark": {"type": "point", "shape": "square", "filled": true, "size": 5, "opacity": 1},
 "encoding": {"x": {"field": "r", "type": "quantitative", "scale": {"domain": [0.68, 1.02]}, "axis": {"values": [0.7,0.75,0.8,0.85,0.9,0.95,1.0], "format": ".2f", "labelOverlap": false, "labelFlush": false}, "title": "Recall@100"}, "y": {"field": "v", "type": "quantitative", "title": "QPS"}, "color": {"field": "s", "type": "nominal"}}},
{"transform": [{"filter": "datum.s=='H'||datum.s=='R'"}], "mark": {"type": "text", "fontSize": 3, "dy": -3, "opacity": 0.5},
 "encoding": {"x": {"field": "r", "type": "quantitative", "scale": {"domain": [0.68, 1.02]}, "axis": {"values": [0.7,0.75,0.8,0.85,0.9,0.95,1.0], "format": ".2f", "labelOverlap": false, "labelFlush": false}, "title": "Recall@100"}, "y": {"field": "v", "type": "quantitative", "title": "QPS"}, "text": {"field": "l"}, "color": {"field": "s", "type": "nominal"}}}
]}
}
], "spacing": 24, "resolve": {"scale": {"color": "independent"}, "legend": {"color": "independent"}}},
{"hconcat": [
{
"data": {"name": "d"},
"transform": [{"filter": "datum.q=='BL'"}],
"columns": 4, "bounds": "flush",
"spacing": {"row": 21, "column": 17},
"facet": {"field": "p", "type": "ordinal", "sort": ["10%","5%","3%","1%","0.8%","0.5%","0.3%","0.1%","0.05%","0.01%"], "header": {"title": null}},
"resolve": {"scale": {"y": "independent"}, "axis": {"x": "independent", "y": "independent"}},
"spec": {"width": 106, "height": 82, "layer": [
{"transform": [{"filter": "datum.s=='ref'"}], "mark": {"type": "rule", "strokeWidth": 1},
 "encoding": {"x": {"field": "r", "type": "quantitative", "scale": {"domain": [0.68, 1.02]}, "axis": {"values": [0.7,0.75,0.8,0.85,0.9,0.95,1.0], "format": ".2f", "labelOverlap": false, "labelFlush": false}, "title": "Recall@100"},
  "color": {"field": "s", "type": "nominal", "scale": {"domain": ["H","R","ref","g"], "range": ["#3d85d8","#2fae8a","#f4c430","#e5484d"]},
   "legend": {"orient": "none", "legendX": 129, "legendY": -18, "direction": "horizontal", "title": null, "labelExpr": "datum.label=='H'?'HNSW':datum.label=='R'?'RACORN-1+ BR=2.5':datum.label=='ref'?'ref recall=0.916':'guardrail (-1%p)=0.906'",
    "encode": {"symbols": {"update": {"strokeDash": {"signal": "datum.value=='g'?[2.5,1.5]:[1,0]"}, "stroke": {"signal": "datum.value=='H'?'#3d85d8':datum.value=='R'?'#2fae8a':datum.value=='ref'?'#f4c430':'#e5484d'"}, "opacity": {"value": 1}}}}}}}},
{"transform": [{"filter": "datum.s=='g'"}], "mark": {"type": "rule", "strokeWidth": 0.9, "strokeDash": [3, 2]},
 "encoding": {"x": {"field": "r", "type": "quantitative", "scale": {"domain": [0.68, 1.02]}, "axis": {"values": [0.7,0.75,0.8,0.85,0.9,0.95,1.0], "format": ".2f", "labelOverlap": false, "labelFlush": false}, "title": "Recall@100"}, "color": {"field": "s", "type": "nominal"}}},
{"transform": [{"filter": "datum.s=='H'||datum.s=='R'"}], "mark": {"type": "line", "strokeWidth": 0.8},
 "encoding": {"x": {"field": "r", "type": "quantitative", "scale": {"domain": [0.68, 1.02]}, "axis": {"values": [0.7,0.75,0.8,0.85,0.9,0.95,1.0], "format": ".2f", "labelOverlap": false, "labelFlush": false}, "title": "Recall@100"},
  "y": {"field": "v", "type": "quantitative", "scale": {"type": "log", "nice": false, "padding": 4}, "axis": {"tickCount": 12, "labelExpr": "abs(log(datum.value)/LN10-round(log(datum.value)/LN10))<0.01?'10'+['⁰','¹','²','³','⁴','⁵'][round(log(datum.value)/LN10)]:''"}, "title": "QPS"},
  "color": {"field": "s", "type": "nominal"}, "order": {"field": "i"}}},
{"transform": [{"filter": "datum.s=='H'"}], "mark": {"type": "point", "shape": "cross", "filled": true, "size": 9, "opacity": 1},
 "encoding": {"x": {"field": "r", "type": "quantitative", "scale": {"domain": [0.68, 1.02]}, "axis": {"values": [0.7,0.75,0.8,0.85,0.9,0.95,1.0], "format": ".2f", "labelOverlap": false, "labelFlush": false}, "title": "Recall@100"}, "y": {"field": "v", "type": "quantitative", "title": "QPS"}, "color": {"field": "s", "type": "nominal"}}},
{"transform": [{"filter": "datum.s=='R'"}], "mark": {"type": "point", "shape": "square", "filled": true, "size": 5, "opacity": 1},
 "encoding": {"x": {"field": "r", "type": "quantitative", "scale": {"domain": [0.68, 1.02]}, "axis": {"values": [0.7,0.75,0.8,0.85,0.9,0.95,1.0], "format": ".2f", "labelOverlap": false, "labelFlush": false}, "title": "Recall@100"}, "y": {"field": "v", "type": "quantitative", "title": "QPS"}, "color": {"field": "s", "type": "nominal"}}},
{"transform": [{"filter": "datum.s=='H'||datum.s=='R'"}], "mark": {"type": "text", "fontSize": 3, "dy": -3, "opacity": 0.5},
 "encoding": {"x": {"field": "r", "type": "quantitative", "scale": {"domain": [0.68, 1.02]}, "axis": {"values": [0.7,0.75,0.8,0.85,0.9,0.95,1.0], "format": ".2f", "labelOverlap": false, "labelFlush": false}, "title": "Recall@100"}, "y": {"field": "v", "type": "quantitative", "title": "QPS"}, "text": {"field": "l"}, "color": {"field": "s", "type": "nominal"}}}
]}
},
{
"data": {"name": "d"},
"transform": [{"filter": "datum.q=='BR'"}],
"columns": 4, "bounds": "flush",
"spacing": {"row": 21, "column": 20},
"facet": {"field": "p", "type": "ordinal", "sort": ["10%","5%","3%","1%","0.8%","0.5%","0.3%","0.1%","0.05%","0.01%"], "header": {"title": null}},
"resolve": {"scale": {"y": "independent"}, "axis": {"x": "independent", "y": "independent"}},
"spec": {"width": 104, "height": 82, "layer": [
{"transform": [{"filter": "datum.s=='ref'"}], "mark": {"type": "rule", "strokeWidth": 1},
 "encoding": {"x": {"field": "r", "type": "quantitative", "scale": {"domain": [0.68, 1.02]}, "axis": {"values": [0.7,0.75,0.8,0.85,0.9,0.95,1.0], "format": ".2f", "labelOverlap": false, "labelFlush": false}, "title": "Recall@100"},
  "color": {"field": "s", "type": "nominal", "scale": {"domain": ["H","R","ref","g"], "range": ["#3d85d8","#2fae8a","#f4c430","#e5484d"]},
   "legend": {"orient": "none", "legendX": 129, "legendY": -18, "direction": "horizontal", "title": null, "labelExpr": "datum.label=='H'?'HNSW':datum.label=='R'?'RACORN-1+ BR=2.5':datum.label=='ref'?'ref recall=0.805':'guardrail (-1%p)=0.795'",
    "encode": {"symbols": {"update": {"strokeDash": {"signal": "datum.value=='g'?[2.5,1.5]:[1,0]"}, "stroke": {"signal": "datum.value=='H'?'#3d85d8':datum.value=='R'?'#2fae8a':datum.value=='ref'?'#f4c430':'#e5484d'"}, "opacity": {"value": 1}}}}}}}},
{"transform": [{"filter": "datum.s=='g'"}], "mark": {"type": "rule", "strokeWidth": 0.9, "strokeDash": [3, 2]},
 "encoding": {"x": {"field": "r", "type": "quantitative", "scale": {"domain": [0.68, 1.02]}, "axis": {"values": [0.7,0.75,0.8,0.85,0.9,0.95,1.0], "format": ".2f", "labelOverlap": false, "labelFlush": false}, "title": "Recall@100"}, "color": {"field": "s", "type": "nominal"}}},
{"transform": [{"filter": "datum.s=='H'||datum.s=='R'"}], "mark": {"type": "line", "strokeWidth": 0.8},
 "encoding": {"x": {"field": "r", "type": "quantitative", "scale": {"domain": [0.68, 1.02]}, "axis": {"values": [0.7,0.75,0.8,0.85,0.9,0.95,1.0], "format": ".2f", "labelOverlap": false, "labelFlush": false}, "title": "Recall@100"},
  "y": {"field": "v", "type": "quantitative", "scale": {"type": "log", "nice": false, "padding": 4}, "axis": {"tickCount": 12, "labelExpr": "abs(log(datum.value)/LN10-round(log(datum.value)/LN10))<0.01?'10'+['⁰','¹','²','³','⁴','⁵'][round(log(datum.value)/LN10)]:''"}, "title": "QPS"},
  "color": {"field": "s", "type": "nominal"}, "order": {"field": "i"}}},
{"transform": [{"filter": "datum.s=='H'"}], "mark": {"type": "point", "shape": "cross", "filled": true, "size": 9, "opacity": 1},
 "encoding": {"x": {"field": "r", "type": "quantitative", "scale": {"domain": [0.68, 1.02]}, "axis": {"values": [0.7,0.75,0.8,0.85,0.9,0.95,1.0], "format": ".2f", "labelOverlap": false, "labelFlush": false}, "title": "Recall@100"}, "y": {"field": "v", "type": "quantitative", "title": "QPS"}, "color": {"field": "s", "type": "nominal"}}},
{"transform": [{"filter": "datum.s=='R'"}], "mark": {"type": "point", "shape": "square", "filled": true, "size": 5, "opacity": 1},
 "encoding": {"x": {"field": "r", "type": "quantitative", "scale": {"domain": [0.68, 1.02]}, "axis": {"values": [0.7,0.75,0.8,0.85,0.9,0.95,1.0], "format": ".2f", "labelOverlap": false, "labelFlush": false}, "title": "Recall@100"}, "y": {"field": "v", "type": "quantitative", "title": "QPS"}, "color": {"field": "s", "type": "nominal"}}},
{"transform": [{"filter": "datum.s=='H'||datum.s=='R'"}], "mark": {"type": "text", "fontSize": 3, "dy": -3, "opacity": 0.5},
 "encoding": {"x": {"field": "r", "type": "quantitative", "scale": {"domain": [0.68, 1.02]}, "axis": {"values": [0.7,0.75,0.8,0.85,0.9,0.95,1.0], "format": ".2f", "labelOverlap": false, "labelFlush": false}, "title": "Recall@100"}, "y": {"field": "v", "type": "quantitative", "title": "QPS"}, "text": {"field": "l"}, "color": {"field": "s", "type": "nominal"}}}
]}
}
], "spacing": 22, "resolve": {"scale": {"color": "independent"}, "legend": {"color": "independent"}}}
],
"config": {
 "font": "DejaVu Sans",
 "view": {"stroke": "#333333", "strokeWidth": 0.7},
 "axis": {"grid": true, "gridColor": "#e4e4e4", "gridWidth": 0.5, "domain": false, "tickSize": 2, "tickWidth": 0.5, "tickColor": "#333333", "labelFontSize": 3.6, "labelColor": "#333333", "titleFontSize": 4.2, "titleFontWeight": "normal", "titleColor": "#333333", "labelPadding": 1, "titlePadding": 1.5, "minExtent": 0},
 "header": {"labelFontSize": 5, "labelPadding": 3, "labelColor": "#222222"},
 "legend": {"symbolType": "stroke", "symbolSize": 42, "symbolStrokeWidth": 1.2, "labelFontSize": 4.2, "labelColor": "#333333", "labelOffset": 3, "columnPadding": 9, "padding": 1, "strokeColor": "#d0d0d0", "fillColor": "white", "cornerRadius": 1.5}
}
}
